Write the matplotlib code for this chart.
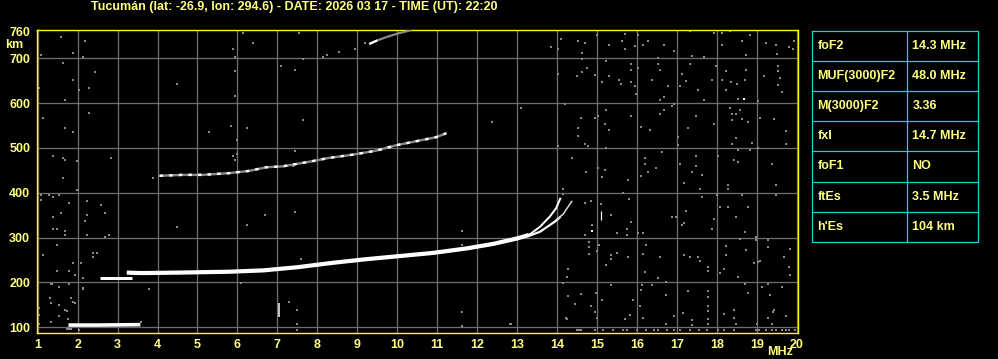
import matplotlib
matplotlib.use("Agg")
import matplotlib.pyplot as plt

# ---------------- data ----------------
title = "Tucumán (lat: -26.9, lon: 294.6) - DATE: 2026 03 17 - TIME (UT): 22:20"
x_ticks = list(range(1, 21))
x_grid = list(range(1, 21))
y_ticks = [100, 200, 300, 400, 500, 600, 700, 760]
y_grid = [100, 200, 300, 400, 500, 600, 700]

# main F trace (thick, merged o/x)
f2_freq = [3.23, 3.6, 4.5, 5.8, 6.65, 7.5, 8.4, 9.23, 10.07, 10.9, 11.74, 12.4, 12.99, 13.3]
f2_km = [222, 221, 222, 224, 227, 234, 244, 252, 259, 266, 276, 286, 298, 306]
# split branches near critical frequency
f2o_freq = [13.3, 13.57, 13.82, 13.98, 14.09]
f2o_km = [306, 324, 347, 366, 389]
f2x_freq = [13.3, 13.57, 13.82, 13.98, 14.09]
f2x_km = [304, 313, 328, 338, 347]
f2b_freq = [13.98, 14.15, 14.3, 14.38]
f2b_km = [340, 352, 372, 382]
# low F segment
flow_freq = [2.55, 3.35]
flow_km = [210, 210]
# second hop
f2hop_freq = [4.05, 4.63, 5.13, 5.8, 6.3, 6.72, 7.13, 7.84, 8.3, 8.88, 9.47, 9.97, 10.47, 10.97, 11.23]
f2hop_km = [438, 440, 440, 444, 449, 457, 459, 470, 478, 485, 494, 506, 515, 524, 533]
# third hop
f3hop_freq = [9.3, 9.5, 9.75, 10.0, 10.35]
f3hop_km = [732, 740, 748, 755, 763]
# sporadic E
es_freq = [1.77, 2.5, 3.57]
es_km = [105, 105, 106]
# interference at 7 MHz
intf_freq = [7.03, 7.03]
intf_km = [124, 154]
intf2_freq = [15.09, 15.09]
intf2_km = [340, 360]

noise_f = [14.09, 14.53, 14.69, 14.03, 14.63, 14.99, 15.69, 15.63, 15.29, 15.69, 16.03, 15.94, 16.15, 16.28, 16.68, 16.94,
           17.34, 17.38, 17.69, 17.94, 18.13, 18.34, 18.13, 18.84, 18.63, 18.74, 19.22, 19.48, 19.51, 19.8, 19.94, 19.9,
           14.63, 15.23, 14.74, 14.63, 14.49, 14.03, 14.94, 15.13, 15.29, 15.55, 15.59, 15.84, 15.84, 15.84, 15.94, 16.03,
           16.38, 16.53, 16.53, 16.59, 16.78, 16.69, 16.59, 15.98, 17.14, 17.24, 17.09, 17.34, 17.54, 17.69, 17.88, 17.99,
           18.13, 18.24, 18.24, 18.36, 18.51, 18.7, 18.74, 18.53, 19.03, 19.19, 19.53, 19.53, 19.59, 19.53, 19.63, 14.2,
           14.59, 14.53, 14.53, 14.69, 14.78, 14.03, 14.94, 15.03, 15.23, 15.19, 15.29, 15.23, 15.84, 16.09, 16.34, 16.59,
           16.69, 16.88, 16.94, 17.03, 17.03, 17.28, 17.49, 17.94, 18.34, 18.39, 18.49, 18.59, 18.39, 18.63, 18.79, 18.49,
           18.39, 18.89, 19.09, 19.44, 19.74, 19.74, 19.04, 14.38, 14.73, 15.03, 15.19, 15.13, 16.19, 16.19, 16.28, 16.09,
           16.49, 16.63, 17.09, 17.49, 17.49, 17.39, 17.64, 18.04, 18.44, 18.53, 18.53, 18.84, 19.38,
           15.78, 17.17, 17.59, 18.28, 18.28, 19.48, 14.14, 14.14, 15.64, 15.8, 17.64, 18.01, 18.09, 18.28, 18.63, 18.79,
           19.48, 17.24, 18.49, 17.93, 16.88, 16.97, 17.17, 17.13, 17.89, 18.7, 18.99, 14.69, 14.84, 15.09, 15.34, 14.88,
           15.74, 15.84, 15.49, 15.74, 16.03, 16.15, 14.7, 14.79, 14.79, 14.79, 15.01, 15.04, 15.34, 15.34, 15.49, 15.78,
           15.23, 16.24, 16.15, 16.59, 16.2, 16.53, 16.74, 17.19, 17.34, 17.54, 17.59, 17.79, 17.79, 18.09, 18.19, 18.24,
           18.24, 18.53, 18.59, 18.74, 18.94, 19.04, 19.09, 19.28, 19.69, 19.84, 19.8, 19.84, 19.28, 18.99, 14.28, 14.24,
           14.14, 14.28, 14.59, 14.44, 14.84, 14.97, 14.95, 14.24, 14.99, 15.34, 15.13, 15.91, 15.82, 15.7, 16.12, 16.09,
           16.08, 16.15, 16.38, 16.74, 16.94, 16.73, 17.15, 17.28, 17.39, 17.39, 17.79, 17.79, 17.79, 17.79, 17.79, 17.79,
           18.19, 18.44, 18.44, 18.49, 18.7, 18.79, 19.14, 19.28, 19.34, 19.42, 19.4, 19.29, 19.64, 19.74, 19.01, 19.39,
           14.49, 14.59, 14.95, 15.14, 15.39, 15.64, 15.74, 15.99, 16.22, 16.43, 16.54, 16.76, 16.93, 17.09, 17.34, 17.55,
           17.76, 18.04, 18.18, 18.43, 18.97, 19.05, 19.22, 19.39, 19.49, 19.64, 19.72, 19.8, 19.95,
           1.58, 2.19, 1.88, 1.08, 2.13, 1.63, 2.44, 1.88, 1.04, 2.04, 2.29, 1.69, 2.29, 1.13, 1.69, 1.88, 1.38, 1.63, 1.69,
           1.98, 2.83, 1.63, 1.98, 1.09, 1.29, 1.38, 1.54, 1.09, 1.79, 2.23, 2.58, 2.69, 1.38, 2.23, 2.19, 1.58, 1.38, 1.48,
           1.69, 1.69, 2.23, 2.69, 2.79, 1.48, 1.13, 2.38, 2.48, 2.38, 2.08, 1.88, 1.48, 1.79, 1.94, 2.13, 1.33, 1.35, 1.54,
           1.79, 2.13, 1.32, 1.33, 1.84, 1.88, 1.94, 1.04, 1.54, 1.73, 1.69, 1.04, 1.54, 1.76, 1.33, 1.04, 1.73, 1.79, 1.84,
           2.03, 1.09, 2.03, 4.48, 5.88, 5.94, 6.13, 6.38, 5.94, 5.94, 7.09, 7.44, 5.84, 6.24, 5.28, 5.98, 5.88, 5.94, 5.98,
           7.43, 7.38, 7.53, 7.63, 8.13, 8.23, 8.53, 8.94, 9.19, 7.63, 13.84, 13.09, 12.38, 7.49, 7.49, 7.49, 7.28, 11.63,
           11.63, 3.58, 12.86, 14.23, 14.55, 11.63, 11.63, 11.63, 12.83, 7.59, 11.63, 3.88, 6.69, 6.24, 4.48, 3.78, 2.13,
           7.58, 6.08, 7.44, 7.29]
noise_km = [743, 738, 734, 721, 712, 753, 754, 739, 730, 721, 753, 727, 730, 739, 730, 717,
            760, 706, 703, 756, 756, 760, 729, 751, 739, 708, 734, 729, 710, 725, 739, 721,
            699, 693, 678, 669, 660, 665, 663, 647, 661, 652, 643, 688, 675, 647, 638, 678,
            652, 701, 688, 675, 638, 614, 608, 620, 665, 650, 639, 688, 630, 608, 652, 683,
            652, 671, 630, 647, 643, 651, 675, 610, 605, 661, 682, 672, 656, 641, 626, 598,
            568, 545, 527, 509, 505, 505, 568, 572, 585, 553, 541, 501, 572, 546, 541, 576,
            584, 594, 598, 524, 506, 545, 572, 553, 589, 576, 576, 585, 563, 565, 558, 522,
            509, 511, 568, 565, 538, 509, 501, 478, 446, 455, 452, 435, 478, 464, 446, 438,
            455, 491, 464, 483, 460, 446, 440, 483, 474, 469, 495, 496, 464,
            429, 422, 409, 418, 409, 418, 409, 397, 400, 387, 391, 396, 368, 368, 396, 368,
            396, 360, 346, 342, 346, 346, 333, 329, 320, 312, 301, 377, 381, 376, 351, 329,
            320, 334, 310, 307, 310, 310, 307, 290, 279, 263, 271, 284, 261, 253, 266, 256,
            240, 284, 263, 257, 223, 210, 201, 261, 257, 257, 249, 234, 226, 221, 231, 282,
            262, 212, 297, 273, 243, 246, 249, 279, 257, 275, 234, 217, 295, 295, 230, 212,
            199, 169, 174, 152, 148, 176, 134, 118, 121, 195, 162, 162, 128, 119, 195, 183,
            147, 121, 195, 171, 126, 108, 133, 182, 116, 106, 182, 168, 148, 136, 119, 108,
            130, 139, 121, 108, 197, 177, 191, 197, 173, 139, 134, 121, 191, 125, 108, 108,
            93, 93, 93, 93, 93, 93, 93, 93, 93, 93, 93, 93, 93, 93, 93, 93,
            93, 93, 93, 93, 93, 93, 93, 93, 93, 93, 93, 93, 93,
            748, 739, 711, 707, 704, 689, 670, 652, 634, 629, 634, 607, 579, 568, 545, 536, 483, 478, 473,
            472, 478, 434, 406, 395, 395, 391, 395, 384, 378, 382, 373, 356, 347, 350, 337, 354, 319, 319,
            315, 306, 306, 302, 306, 284, 261, 266, 266, 257, 244, 243, 226, 226, 217, 209, 196, 196, 191,
            196, 187, 165, 154, 165, 157, 154, 142, 150, 136, 139, 127, 126, 119, 111, 107, 96, 96, 96,
            94, 708, 630, 643, 721, 703, 756, 734, 671, 617, 684, 675, 550, 545, 536, 518, 483, 474, 487,
            494, 460, 756, 698, 703, 708, 714, 721, 734, 563, 725, 589, 558, 139, 107, 95, 157, 135,
            104, 112, 107, 120, 94, 315, 135, 104, 107, 252, 283, 434, 350, 328, 324, 185, 185,
            253, 199, 358, 157]
white_f = [18.69, 14.88]
white_km = [609, 315]

# table
table_labels = ["foF2", "MUF(3000)F2", "M(3000)F2", "fxI", "foF1", "ftEs", "h'Es"]
table_values = ["14.3 MHz", "48.0 MHz", "3.36", "14.7 MHz", "NO", "3.5 MHz", "104 km"]

# ---------------- style ----------------
W, H = 998, 359
TXT = "#ffff80"
YEL = "#ffff00"
GRID = "#6e6e6e"
NOISE = "#8a8a8a"
CYAN = "#00e0e0"
plt.rcParams['font.family'] = ['Liberation Sans', 'DejaVu Sans']
plt.rcParams['font.weight'] = 'bold'
FS = 9.0
PX = 0.72  # points per pixel at dpi 100

fig = plt.figure(figsize=(W / 100, H / 100), dpi=100, facecolor="black")

def fx(px):
    return px / W

def fy(py):
    return 1 - py / H

ax_l, ax_r, ax_t, ax_b = 36.5, 797.5, 30.0, 333.0
ax = fig.add_axes([fx(ax_l), fy(ax_b), (ax_r - ax_l) / W, (ax_b - ax_t) / H], facecolor="black")
ax.set_xlim(0.97, 20.02)
ax.set_ylim(87.3, 763.2)

ax.vlines(x_grid, 87.3, 763.2, colors=GRID, linewidth=1.3 * PX, zorder=1)
ax.hlines(y_grid, 0.97, 20.02, colors=GRID, linewidth=1.3 * PX, zorder=1)

ax.scatter(noise_f, noise_km, marker='s', s=2.6, color=NOISE, linewidths=0, zorder=2)
ax.scatter(white_f, white_km, marker='s', s=2.6, color="white", linewidths=0, zorder=2)

kw = dict(solid_capstyle='butt', solid_joinstyle='round', zorder=3)
ax.plot(f2_freq, f2_km, color="white", linewidth=4.2 * PX, **kw)
ax.plot(f2o_freq, f2o_km, color="white", linewidth=2.0 * PX, **kw)
ax.plot(f2x_freq, f2x_km, color="white", linewidth=2.2 * PX, **kw)
ax.plot(f2b_freq, f2b_km, color="#d0d0d0", linewidth=1.6 * PX, **kw)
ax.plot(flow_freq, flow_km, color="white", linewidth=3.0 * PX, **kw)
ax.plot(f2hop_freq, f2hop_km, color="#8a8a8a", linewidth=2.4 * PX, **kw)
ax.plot(f2hop_freq, f2hop_km, color="white", linewidth=2.4 * PX, dashes=(1.5, 2.5), zorder=3)
ax.plot(f3hop_freq, f3hop_km, color="#8a8a8a", linewidth=2.2 * PX, **kw)
ax.plot(f3hop_freq[:2], f3hop_km[:2], color="white", linewidth=2.2 * PX, **kw)
ax.plot(es_freq, es_km, color="white", linewidth=3.6 * PX, **kw)
ax.plot(intf_freq, intf_km, color="white", linewidth=1.5 * PX, **kw)
ax.plot(intf2_freq, intf2_km, color="white", linewidth=1.2 * PX, **kw)

for s in ax.spines.values():
    s.set_color(YEL)
    s.set_linewidth(1.4 * PX)

ax.set_xticks(x_ticks)
ax.set_xticklabels([str(v) for v in x_ticks])
ax.set_yticks(y_ticks)
ax.set_yticklabels([str(v) for v in y_ticks])
ax.tick_params(length=0, colors=TXT, labelsize=FS, pad=4.5)
for lab in ax.get_xticklabels() + ax.get_yticklabels():
    lab.set_fontweight('bold')

fig.text(fx(91), fy(7), title, color=TXT, fontsize=FS, fontweight='bold', ha='left', va='center')
fig.text(fx(14), fy(45), "km", color=TXT, fontsize=FS, fontweight='bold', ha='center', va='center')
fig.text(fx(780), fy(352), "MHz", color=TXT, fontsize=FS, fontweight='bold', ha='center', va='center')

# table
t_l, t_r, t_t, t_b, t_div = 812.0, 978.0, 30.5, 242.0, 907.0
tax = fig.add_axes([fx(t_l), fy(t_b), (t_r - t_l) / W, (t_b - t_t) / H])
tax.set_xlim(t_l, t_r)
tax.set_ylim(t_b, t_t)
tax.axis('off')
nrows = len(table_labels)
rh = (t_b - t_t) / nrows
lw = 1.2 * PX
tax.plot([t_l, t_r, t_r, t_l, t_l], [t_t, t_t, t_b, t_b, t_t], color=CYAN, linewidth=lw, clip_on=False)
tax.plot([t_div, t_div], [t_t, t_b], color=CYAN, linewidth=lw, clip_on=False)
for i in range(1, nrows):
    yy = t_t + i * rh
    tax.plot([t_l, t_r], [yy, yy], color=CYAN, linewidth=lw, clip_on=False)
for i, (lab, val) in enumerate(zip(table_labels, table_values)):
    yc = t_t + (i + 0.5) * rh
    tax.text(817.5, yc, lab, color=TXT, fontsize=FS, fontweight='bold', ha='left', va='center')
    tax.text(912.5, yc, val, color=TXT, fontsize=FS, fontweight='bold', ha='left', va='center')

fig.savefig("out.png", dpi=100, facecolor="black")
